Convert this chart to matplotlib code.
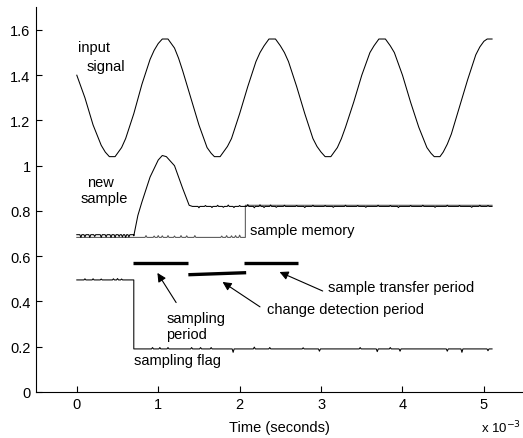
import matplotlib.pyplot as plt
import numpy as np

plt.rcParams['font.family'] = ['Liberation Sans', 'DejaVu Sans']

# time axis is in ms (axis labelled x 10^-3 seconds)
input_t = [0, 0.1, 0.2, 0.3, 0.35, 0.4, 0.47, 0.5, 0.55, 0.6, 0.7, 0.8, 0.9, 0.95, 1.0, 1.05,
           1.12, 1.2, 1.25, 1.3, 1.4, 1.5, 1.6, 1.65, 1.69, 1.76, 1.8, 1.85, 1.9, 2.0, 2.1,
           2.2, 2.25, 2.3, 2.36, 2.44, 2.5, 2.55, 2.6, 2.7, 2.8, 2.9, 2.95, 3.0, 3.05, 3.12,
           3.2, 3.25, 3.3, 3.4, 3.5, 3.6, 3.65, 3.71, 3.79, 3.85, 3.9, 4.0, 4.1, 4.2, 4.3,
           4.35, 4.39, 4.46, 4.5, 4.55, 4.6, 4.7, 4.8, 4.9, 4.95, 5.0, 5.04, 5.1]
input_v = [1.40, 1.30, 1.18, 1.09, 1.06, 1.04, 1.04, 1.055, 1.08, 1.12, 1.23, 1.36, 1.47, 1.51,
           1.54, 1.56, 1.56, 1.52, 1.475, 1.42, 1.30, 1.18, 1.08, 1.055, 1.04, 1.04, 1.06,
           1.085, 1.12, 1.23, 1.35, 1.46, 1.50, 1.53, 1.56, 1.56, 1.53, 1.50, 1.46, 1.35,
           1.23, 1.12, 1.085, 1.06, 1.04, 1.04, 1.08, 1.12, 1.17, 1.28, 1.40, 1.50, 1.53,
           1.56, 1.56, 1.53, 1.50, 1.40, 1.28, 1.17, 1.08, 1.055, 1.04, 1.04, 1.06, 1.095,
           1.14, 1.26, 1.38, 1.49, 1.525, 1.55, 1.56, 1.56]

# new sample: rise/fall part following the input while sampling
new_rise_t = [0.70, 0.75, 0.8, 0.9, 1.0, 1.05, 1.1, 1.2, 1.3, 1.38, 1.42]
new_rise_v = [0.69, 0.78, 0.84, 0.95, 1.025, 1.045, 1.04, 1.0, 0.90, 0.825, 0.82]
new_low = 0.695
new_high = 0.82
new_low_spk_t = [0.05, 0.1, 0.16, 0.22, 0.3, 0.36, 0.42, 0.47, 0.52, 0.56, 0.6, 0.64]
new_low_spk_v = [-0.012, -0.01, -0.012, -0.008, -0.012, -0.01, -0.012, -0.012, -0.008, -0.01, -0.012, -0.01]
new_high_spk_t = [1.5, 1.58, 1.66, 1.73, 1.8, 1.86, 1.93, 2.0, 2.1, 2.18, 2.25, 2.3, 2.38,
                  2.45, 2.55, 2.7, 2.8, 2.9, 3.05, 3.15, 3.3, 3.45, 3.55, 3.7, 3.85, 3.95,
                  4.1, 4.25, 4.4, 4.55, 4.7, 4.85, 4.95, 5.05]
new_high_spk_v = [-0.006, 0.004, -0.005, 0.005, -0.004, 0.006, -0.005, 0.004, 0.008, -0.006,
                  0.007, -0.005, 0.006, -0.004, 0.005, 0.004, -0.005, 0.005, 0.004, -0.004,
                  0.005, 0.004, -0.004, 0.005, 0.004, -0.005, 0.004, 0.005, -0.004, 0.005,
                  0.004, -0.004, 0.005, 0.004]

# sample memory
mem_low = 0.683
mem_high = 0.825
mem_jump_t = 2.07
mem_spk_t = [0.85, 0.95, 1.0, 1.05, 1.12, 1.2, 1.28, 1.35, 1.45, 1.78, 1.84, 1.9, 1.95, 2.0]
mem_spk_v = [0.008, 0.006, 0.008, 0.007, 0.008, 0.006, 0.008, 0.007, 0.008, 0.006, 0.008, 0.007, 0.008, 0.01]

# sampling flag
flag_high = 0.495
flag_low = 0.19
flag_drop_t = 0.70
flag_hi_spk_t = [0.1, 0.2, 0.3, 0.45, 0.5, 0.55]
flag_hi_spk_v = [0.005, 0.005, 0.004, 0.005, 0.006, 0.004]
flag_lo_spk_t = [0.93, 1.02, 1.12, 1.41, 1.52, 1.65, 1.92, 2.18, 2.37, 2.78, 2.98, 3.48, 3.69,
                 3.85, 3.97, 4.55, 4.73, 5.05]
flag_lo_spk_v = [0.006, 0.006, 0.006, 0.006, 0.006, 0.006, -0.015, 0.008, 0.006, 0.005, -0.01,
                 0.006, -0.012, 0.006, -0.01, -0.01, -0.015, -0.008]

# period bars: start, end, level at start, level at end
bar_names = ['sampling', 'change detection', 'sample transfer']
bar_start = [0.69, 1.37, 2.05]
bar_end = [1.37, 2.08, 2.72]
bar_v0 = [0.572, 0.518, 0.572]
bar_v1 = [0.572, 0.527, 0.572]


def spiky(t0, t1, level, spk_t, spk_v, w=0.012):
    tt = [t0]
    vv = [level]
    for st, sv in zip(spk_t, spk_v):
        if t0 < st < t1:
            tt += [st - w, st, st + w]
            vv += [level, level + sv, level]
    tt.append(t1)
    vv.append(level)
    return tt, vv


fig = plt.figure(figsize=(5.23, 4.39), dpi=100)
ax = fig.add_axes([0.069, 0.105, 0.931, 0.876])

lw = 0.75
ax.plot(input_t, input_v, color='k', lw=lw)

# sample memory
t1, v1 = spiky(0, mem_jump_t, mem_low, mem_spk_t, mem_spk_v)
t2, v2 = spiky(mem_jump_t, 5.1, mem_high, [], [])
ax.plot(t1 + t2, v1 + v2, color='#555555', lw=lw)

# new sample
t1, v1 = spiky(0, new_rise_t[0], new_low, new_low_spk_t, new_low_spk_v)
t2, v2 = spiky(new_rise_t[-1], 5.1, new_high, new_high_spk_t, new_high_spk_v)
ax.plot(t1 + new_rise_t + t2, v1 + new_rise_v + v2, color='k', lw=lw)

# sampling flag
t1, v1 = spiky(0, flag_drop_t, flag_high, flag_hi_spk_t, flag_hi_spk_v)
t2, v2 = spiky(flag_drop_t, 5.1, flag_low, flag_lo_spk_t, flag_lo_spk_v)
ax.plot(t1 + t2, v1 + v2, color='k', lw=lw)

for s, e, a, b in zip(bar_start, bar_end, bar_v0, bar_v1):
    ax.plot([s, e], [a, b], color='k', lw=2.4, solid_capstyle='butt')

fs = 10.5
ax.text(0.02, 1.525, 'input', fontsize=fs, va='center')
ax.text(0.12, 1.44, 'signal', fontsize=fs, va='center')
ax.text(0.12, 0.928, 'new', fontsize=fs, va='center')
ax.text(0.045, 0.857, 'sample', fontsize=fs, va='center')
ax.text(2.13, 0.716, 'sample memory', fontsize=fs, va='center')
ax.text(0.70, 0.141, 'sampling flag', fontsize=fs, va='center')

arrow = dict(arrowstyle='-|>', color='k', lw=0.8, mutation_scale=13, shrinkA=0, shrinkB=0)
ax.annotate('', xy=(0.99, 0.526), xytext=(1.22, 0.395), arrowprops=arrow)
ax.annotate('', xy=(1.79, 0.486), xytext=(2.25, 0.376), arrowprops=arrow)
ax.annotate('', xy=(2.49, 0.530), xytext=(3.02, 0.446), arrowprops=arrow)
ax.text(1.10, 0.29, 'sampling\nperiod', fontsize=fs, va='center', linespacing=1.2)
ax.text(2.33, 0.367, 'change detection period', fontsize=fs, va='center')
ax.text(3.09, 0.464, 'sample transfer period', fontsize=fs, va='center')

ax.set_xlim(-0.5, 5.48)
ax.set_ylim(0, 1.7)
ax.set_xticks([0, 1, 2, 3, 4, 5])
ax.set_yticks([0, 0.2, 0.4, 0.6, 0.8, 1, 1.2, 1.4, 1.6])
ax.set_yticklabels(['0', '0.2', '0.4', '0.6', '0.8', '1', '1.2', '1.4', '1.6'])
ax.tick_params(direction='in', length=4, width=0.8, labelsize=fs, pad=4)
ax.spines['top'].set_visible(False)
ax.spines['right'].set_visible(False)
ax.set_xlabel('Time (seconds)', fontsize=fs, labelpad=6)
fig.text(0.996, 0.006, 'x 10$^{-3}$', fontsize=9.5, ha='right', va='bottom')

fig.savefig('out.png', dpi=100)
